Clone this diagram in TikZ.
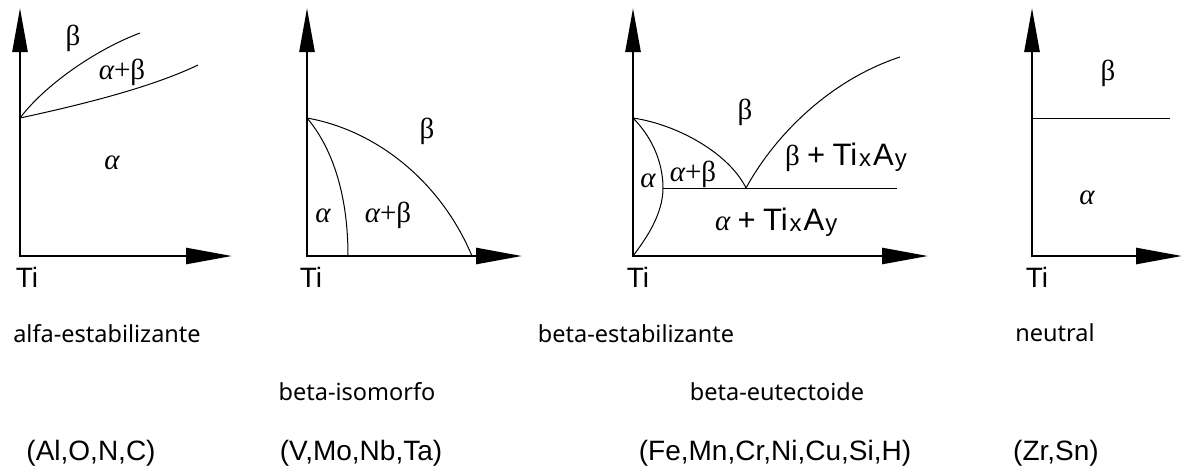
\documentclass[tikz,border=0pt]{standalone}
\usepackage{fontspec}
\setmainfont{Noto Sans}
\newfontfamily\arialfont{Liberation Sans}
\newfontfamily\greekfont{Liberation Serif}
\usetikzlibrary{arrows.meta}
\newcommand{\al}{{\itshape α}}
\newcommand{\TixAy}{{\arialfont\fontsize{31}{34}\selectfont Ti\kern2pt\raisebox{-1pt}{\fontsize{24}{26}\selectfont x}\kern2pt A\kern1pt\raisebox{-1pt}{\fontsize{24}{26}\selectfont y}}}

\begin{document}
\begin{tikzpicture}[x=1pt, y=-1pt,
    axis/.style={line width=2.6pt, {Triangle[length=44pt,width=15pt]}-{Triangle[length=46pt,width=16pt]}},
    phaseline/.style={line width=1pt},
    phase/.style={font=\greekfont\fontsize{29}{32}\selectfont, inner sep=0pt},
    origin/.style={font=\arialfont\fontsize{28}{32}\selectfont, inner sep=0pt},
    caption/.style={font=\fontsize{23.5}{28}\selectfont, inner sep=0pt},
    elements/.style={font=\arialfont\fontsize{28}{32}\selectfont, inner sep=0pt}
]
\useasboundingbox (0,0) rectangle (1185,472);

% Axes
\coordinate (o1) at (20,256);   \coordinate (t1) at (20,8);   \coordinate (r1) at (232,256);
\coordinate (o2) at (307,256);  \coordinate (t2) at (307,8);  \coordinate (r2) at (522,256);
\coordinate (o3) at (633,256);  \coordinate (t3) at (633,8);  \coordinate (r3) at (928,256);
\coordinate (o4) at (1032,256); \coordinate (t4) at (1032,8); \coordinate (r4) at (1182,256);
\foreach \i in {1,...,4}
  \draw[axis] (t\i) -- (o\i) -- (r\i);

% Alfa-stabilizing
\coordinate (p1) at (20,118);
\draw[phaseline] (p1) .. controls (45,85) and (95,50) .. (140,33);
\draw[phaseline] (p1) .. controls (80,105) and (150,88) .. (198,65);
\node[phase] (b1) at (73,38) {β};
\node[phase] (ab1) at (122,72) {\al+β};
\node[phase] (a1) at (112,163) {\al};

% Beta-isomorphous
\coordinate (p2) at (307,118);
\draw[phaseline] (p2) .. controls (375,130) and (440,180) .. (472,256);
\draw[phaseline] (p2) .. controls (330,145) and (348,190) .. (348,256);
\node[phase] (b2) at (427,131) {β};
\node[phase] (a2) at (323,216) {\al};
\node[phase] (ab2) at (388,215) {\al+β};

% Beta-eutectoid
\coordinate (p3) at (633,118);
\coordinate (e3) at (663,188);
\coordinate (k3) at (746,188);
\coordinate (f3) at (897,188);
\draw[phaseline] (p3) .. controls (650,135) and (663,160) .. (e3);
\draw[phaseline] (e3) .. controls (663,215) and (645,240) .. (o3);
\draw[phaseline] (p3) .. controls (680,125) and (730,155) .. (k3);
\draw[phaseline] (k3) .. controls (775,135) and (830,80) .. (900,57);
\draw[phaseline] (e3) -- (f3);
\node[phase] (b3) at (745,112) {β};
\node[phase] (a3) at (648,181) {\al};
\node[phase] (ab3) at (693,174) {\al+β};
\node[phase, anchor=base west] (bt3) at (785,165) {β {\arialfont\fontsize{31}{34}\selectfont +} \TixAy};
\node[phase, anchor=base west] (at3) at (715,230) {\al{} {\arialfont\fontsize{31}{34}\selectfont +} \TixAy};

% Neutral
\coordinate (p4) at (1032,118);
\coordinate (q4) at (1170,118);
\draw[phaseline] (p4) -- (q4);
\node[phase] (b4) at (1108,73) {β};
\node[phase] (a4) at (1087,198) {\al};

% Origins
\node[origin] (ti1) at (27,277) {Ti};
\node[origin] (ti2) at (311,277) {Ti};
\node[origin] (ti3) at (638,277) {Ti};
\node[origin] (ti4) at (1037,277) {Ti};

% Captions
\node[caption] (alfa) at (107,334) {alfa-estabilizante};
\node[caption] (beta) at (636,334) {beta-estabilizante};
\node[caption] (neutral) at (1055,333) {neutral};
\node[caption] (iso) at (357,392) {beta-isomorfo};
\node[caption] (eut) at (777,392) {beta-eutectoide};

% Elements
\node[elements] (el1) at (91,453) {(Al,O,N,C)};
\node[elements] (el2) at (361,453) {(V,Mo,Nb,Ta)};
\node[elements] (el3) at (775,453) {(Fe,Mn,Cr,Ni,Cu,Si,H)};
\node[elements] (el4) at (1056,453) {(Zr,Sn)};
\end{tikzpicture}
\end{document}
